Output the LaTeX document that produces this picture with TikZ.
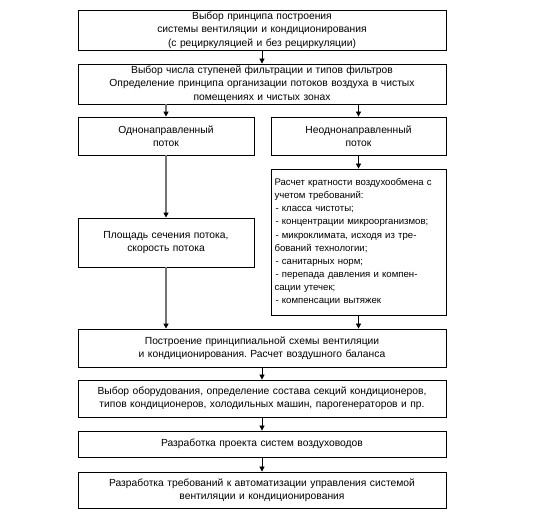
\documentclass[tikz,border=0pt]{standalone}
\usepackage{fontspec}
\setmainfont{Liberation Sans}
\usetikzlibrary{arrows.meta}
\frenchspacing
\begin{document}
\begin{tikzpicture}[x=1pt,y=-1pt,
  box/.style={draw, line width=0.8pt, align=center, inner xsep=0pt, inner ysep=0pt,
    font=\fontsize{10.3}{13.3}\selectfont},
  arr/.style={line width=0.8pt, -{Triangle[width=5pt,length=5pt]}},
  garr/.style={draw=black!55, line width=1.4pt, -{Triangle[width=5pt,length=5pt,color=black]}}]
\useasboundingbox (0,0) rectangle (539,518);
\node[box, text width=368pt, minimum height=40pt] (b1) at (262,30)
  {Выбор принципа построения\\системы вентиляции и кондиционирования\\(с рециркуляцией и без рециркуляции)};
\node[box, text width=368pt, minimum height=40pt] (b2) at (262,84)
  {Выбор числа ступеней фильтрации и типов фильтров\\Определение принципа организации потоков воздуха в чистых\\помещениях и чистых зонах};
\node[box, text width=176pt, minimum height=38pt] (b3l) at (166,136)
  {Однонаправленный\\поток};
\node[box, text width=175pt, minimum height=38pt] (b3r) at (358.5,136)
  {Неоднонаправленный\\поток};
\node[box, text width=176pt, minimum height=49pt] (b4l) at (166,242.5)
  {Площадь сечения потока,\\скорость потока};
\node[box, align=left, inner xsep=3.5pt, text width=168pt, minimum height=146pt, font=\fontsize{9.6}{13.1}\selectfont] (b4r) at (358.5,242)
  {Расчет кратности воздухообмена с\\учетом требований:\\
   \hspace{1pt}- класса чистоты;\\
   \hspace{1pt}- концентрации микроорганизмов;\\
   \hspace{1pt}- микроклимата, исходя из тре-\\бований технологии;\\
   \hspace{1pt}- санитарных норм;\\
   \hspace{1pt}- перепада давления и компен-\\сации утечек;\\
   \hspace{1pt}- компенсации вытяжек};
\node[box, text width=368pt, minimum height=38pt] (b5) at (262,348)
  {Построение принципиальной схемы вентиляции\\и кондиционирования. Расчет воздушного баланса};
\node[box, text width=368pt, minimum height=37pt] (b6) at (262,398.5)
  {Выбор оборудования, определение состава секций кондиционеров,\\типов кондиционеров, холодильных машин, парогенераторов и пр.};
\node[box, text width=368pt, minimum height=26pt] (b7) at (262,444)
  {Разработка проекта систем воздуховодов};
\node[box, text width=368pt, minimum height=36pt] (b8) at (262,490)
  {Разработка требований к автоматизации управления системой\\вентиляции и кондиционирования};
\draw[arr] (b1) -- (b2);
\draw[garr] (b3l.north |- b2.south) -- (b3l.north);
\draw[arr] (b3r.north |- b2.south) -- (b3r.north);
\draw[garr] (b3l) -- (b4l);
\draw[garr] (b4l.south) -- (b4l.south |- b5.north);
\draw[arr] (b3r) -- (b4r);
\draw[arr] (b4r.south) -- (b4r.south |- b5.north);
\draw[arr] (b5) -- (b6);
\draw[arr] (b6) -- (b7);
\draw[arr] (b7) -- (b8);
\end{tikzpicture}
\end{document}
